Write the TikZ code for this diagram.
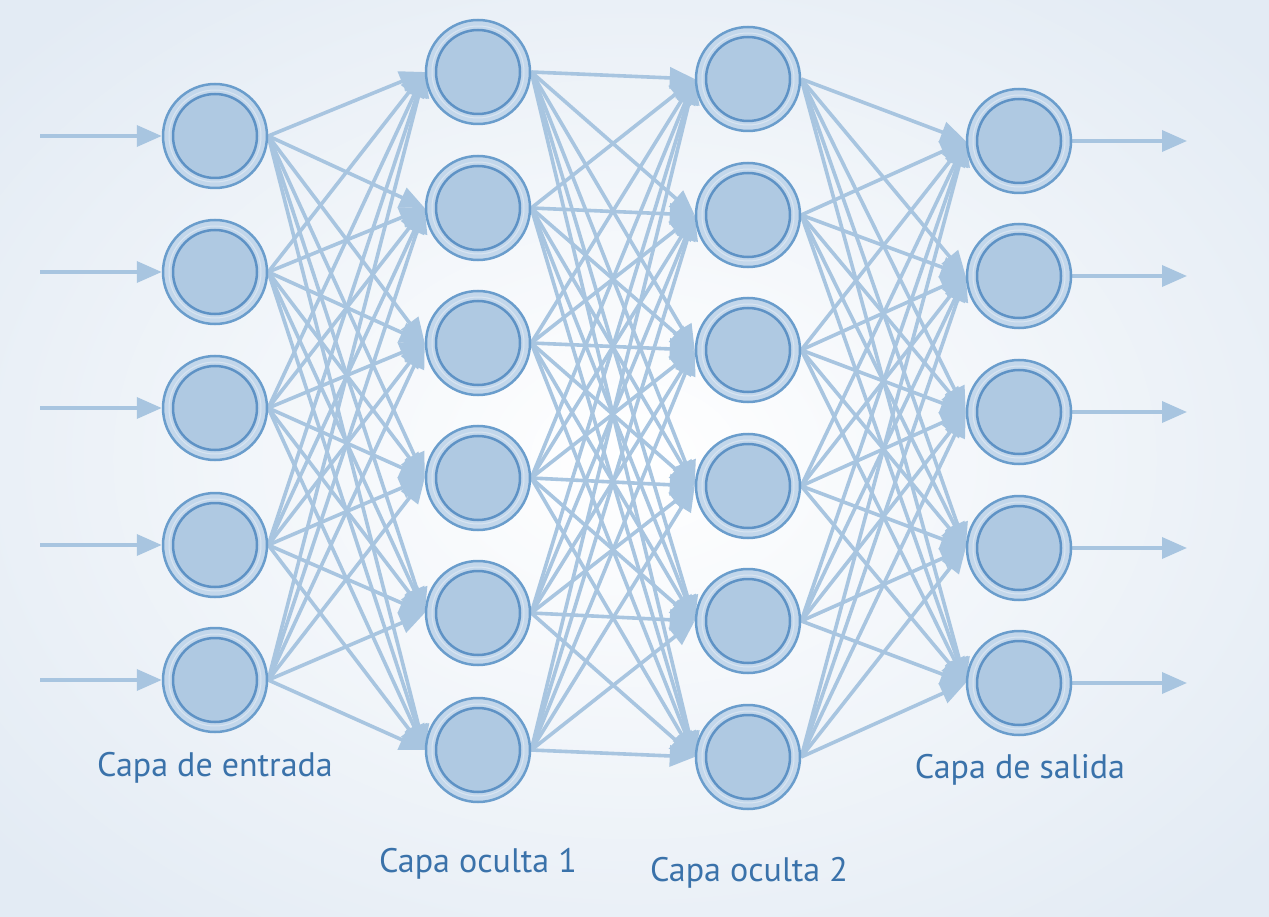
\documentclass[tikz,border=0pt]{standalone}
\usepackage{fontspec}
\setmainfont{PT Sans}
\usetikzlibrary{arrows.meta}
\pgfdeclarelayer{bg}
\pgfdeclarelayer{links}
\pgfsetlayers{bg,links,main}
\definecolor{bgout}{HTML}{E3EBF4}
\definecolor{ringdraw}{HTML}{6A9DCC}
\definecolor{ringfill}{HTML}{C3D7EB}
\definecolor{innerdraw}{HTML}{5E92C5}
\definecolor{innerfill}{HTML}{AFC9E2}
\definecolor{linkcol}{HTML}{A8C5E0}
\definecolor{txtcol}{HTML}{3A72AA}
\tikzset{
  neuron/.style={circle, minimum size=104pt, inner sep=0pt, draw=ringdraw, fill=ringfill, line width=2.5pt,
    path picture={
      \draw[white, line width=1pt, opacity=0.35] (path picture bounding box.center) circle (46pt);
      \draw[innerdraw, fill=innerfill, line width=2.5pt] (path picture bounding box.center) circle (42pt);
    }},
  link/.style={draw=linkcol, line width=3.6pt, -{Triangle[length=25pt,width=21pt]}},
  lbl/.style={text=txtcol, font=\fontsize{34}{40}\selectfont, inner sep=0pt}
}
\begin{document}
\begin{tikzpicture}[x=1pt,y=-1pt]
\useasboundingbox (0,0) rectangle (1269,917);
\begin{pgfonlayer}{bg}
\shade[inner color=white, outer color=bgout] (-200,-150) rectangle (1469,1067);
\end{pgfonlayer}
% nodes
\foreach \y [count=\k] in {136,272,408,545,680} \node[neuron] (i\k) at (215,\y) {};
\foreach \y [count=\k] in {72,208,343,478,613,750} \node[neuron] (a\k) at (478,\y) {};
\foreach \y [count=\k] in {79,215,350,486,621,757} \node[neuron] (b\k) at (748,\y) {};
\foreach \y [count=\k] in {141,276,412,548,683} \node[neuron] (o\k) at (1019,\y) {};
\foreach \y [count=\k] in {136,272,408,545,680} \coordinate (in\k) at (40,\y);
\foreach \y [count=\k] in {141,276,412,548,683} \coordinate (out\k) at (1187,\y);
% connectors
\begin{pgfonlayer}{links}
\foreach \k in {1,...,5} \draw[link] (in\k) -- (i\k.west);
\foreach \k in {1,...,5} \draw[link] (o\k.east) -- (out\k);
\foreach \s in {1,...,5} \foreach \t in {1,...,6} \draw[link] (i\s.east) -- (a\t.west);
\foreach \s in {1,...,6} \foreach \t in {1,...,6} \draw[link] (a\s.east) -- (b\t.west);
\foreach \s in {1,...,6} \foreach \t in {1,...,5} \draw[link] (b\s.east) -- (o\t.west);
\end{pgfonlayer}
% labels
\node[lbl] (l1) at (215,768) {Capa de entrada};
\node[lbl] (l2) at (478,864) {Capa oculta 1};
\node[lbl] (l3) at (749,873) {Capa oculta 2};
\node[lbl] (l4) at (1020,770) {Capa de salida};
\end{tikzpicture}
\end{document}
